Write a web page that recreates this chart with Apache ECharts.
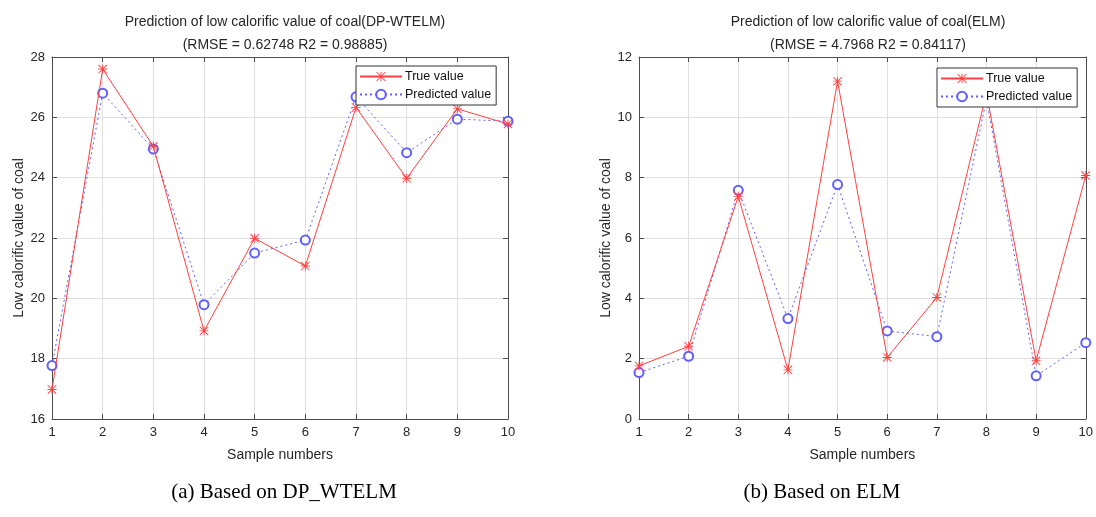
<!DOCTYPE html>
<html>
<head>
<meta charset="utf-8">
<script src="https://cdn.jsdelivr.net/npm/echarts@6/dist/echarts.min.js"></script>
<style>
  html, body { margin: 0; padding: 0; background: #fff; }
  #chart { width: 1096px; height: 517px; }
</style>
</head>
<body>
<div id="chart"></div>
<script>
var samples = [1, 2, 3, 4, 5, 6, 7, 8, 9, 10];

// (a) DP_WTELM
var trueA = [16.98, 27.6, 25.04, 18.92, 21.99, 21.07, 26.33, 23.98, 26.28, 25.78];
var predA = [17.77, 26.8, 24.95, 19.79, 21.5, 21.93, 26.68, 24.83, 25.94, 25.87];

// (b) ELM
var trueB = [1.76, 2.41, 7.38, 1.63, 11.2, 2.04, 4.03, 10.8, 1.93, 8.07];
var predB = [1.54, 2.08, 7.58, 3.33, 7.77, 2.92, 2.73, 10.6, 1.43, 2.53];

var xTicks = [1, 10, 1];
var yTicksA = [16, 28, 2];
var yTicksB = [0, 12, 2];

var titleA = 'Prediction of low calorific value of coal(DP-WTELM)\n(RMSE = 0.62748 R2 = 0.98885)';
var titleB = 'Prediction of low calorific value of coal(ELM)\n(RMSE = 4.7968 R2 = 0.84117)';

function pairs(ys) {
  return samples.map(function (x, i) { return [x, ys[i]]; });
}

var star = 'path://M0 9L20 9L20 11L0 11ZM9 0L11 0L11 20L9 20ZM1.4 0L20 18.6L18.6 20L0 1.4ZM18.6 0L20 1.4L1.4 20L0 18.6Z';
var red = '#ff4040';
var blue = '#6060ff';
var axisCol = '#4d4d4d';
var txtCol = '#262626';
var font = '"Liberation Sans", Arial, sans-serif';

var chartDom = document.getElementById('chart');
var myChart = echarts.init(chartDom, null, {renderer: 'canvas'});

var grids = [
  {left: 52, right: 588, top: 57, bottom: 98},
  {left: 639, right: 9, top: 57, bottom: 98}
];

function xAx(gi, pos) {
  var main = pos === 'bottom';
  return {
    type: 'value', gridIndex: gi, position: pos,
    min: xTicks[0], max: xTicks[1], interval: xTicks[2],
    name: main ? 'Sample numbers' : '',
    nameLocation: 'middle', nameGap: 29,
    nameTextStyle: {color: txtCol, fontSize: 14, fontFamily: font},
    axisLine: {show: true, onZero: false, lineStyle: {color: axisCol, width: 1}},
    axisTick: {show: true, inside: true, length: 5, lineStyle: {color: axisCol}},
    axisLabel: {show: main, color: txtCol, fontSize: 13, fontFamily: font, margin: 7},
    splitLine: {show: main, lineStyle: {color: '#e0e0e0', width: 1}}
  };
}

function yAx(gi, pos, t) {
  var main = pos === 'left';
  return {
    type: 'value', gridIndex: gi, position: pos,
    min: t[0], max: t[1], interval: t[2],
    name: main ? 'Low calorific value of coal' : '',
    nameLocation: 'middle', nameGap: 26, nameRotate: 90,
    nameTextStyle: {color: txtCol, fontSize: 14, fontFamily: font},
    axisLine: {show: true, onZero: false, lineStyle: {color: axisCol, width: 1}},
    axisTick: {show: true, inside: true, length: 5, lineStyle: {color: axisCol}},
    axisLabel: {show: main, color: txtCol, fontSize: 13, fontFamily: font, margin: 7},
    splitLine: {show: main, lineStyle: {color: '#e0e0e0', width: 1}}
  };
}

function trueSeries(gi, ys) {
  return {
    name: 'True value', type: 'line', xAxisIndex: gi * 2, yAxisIndex: gi * 2,
    data: pairs(ys), symbol: star, symbolSize: 9, showSymbol: true,
    lineStyle: {color: red, width: 1},
    itemStyle: {color: red, borderWidth: 0},
    animation: false, z: 3
  };
}

function predSeries(gi, ys) {
  return {
    name: 'Predicted value', type: 'line', xAxisIndex: gi * 2, yAxisIndex: gi * 2,
    data: pairs(ys), symbol: 'emptyCircle', symbolSize: 9, showSymbol: true,
    lineStyle: {color: blue, width: 1, type: [2, 3]},
    itemStyle: {color: blue, borderColor: blue, borderWidth: 1.3},
    animation: false, z: 2
  };
}

function legendAt(left, top) {
  return {
    left: left, top: top, orient: 'vertical',
    data: ['True value', 'Predicted value'],
    backgroundColor: '#fff', borderColor: '#333', borderWidth: 1, borderRadius: 0,
    padding: [4, 5, 4, 3], itemGap: 5, itemWidth: 42, itemHeight: 12,
    textStyle: {color: '#111', fontSize: 12.5, fontFamily: font, padding: [0, 0, 0, -2]},
    selectedMode: false
  };
}

var option = {
  animation: false,
  backgroundColor: '#fff',
  title: [
    {text: titleA, left: 280, top: 6, textAlign: 'center',
     textStyle: {color: txtCol, fontSize: 14, fontWeight: 'normal', fontFamily: font, lineHeight: 23}},
    {text: titleB, left: 863, top: 6, textAlign: 'center',
     textStyle: {color: txtCol, fontSize: 14, fontWeight: 'normal', fontFamily: font, lineHeight: 23}}
  ],
  grid: grids,
  xAxis: [xAx(0, 'bottom'), xAx(0, 'top'), xAx(1, 'bottom'), xAx(1, 'top')],
  yAxis: [yAx(0, 'left', yTicksA), yAx(0, 'right', yTicksA), yAx(1, 'left', yTicksB), yAx(1, 'right', yTicksB)],
  legend: [legendAt(356, 66), legendAt(937, 68)],
  series: [
    trueSeries(0, trueA), predSeries(0, predA),
    trueSeries(1, trueB), predSeries(1, predB)
  ],
  graphic: [
    {type: 'text', x: 284, y: 482,
     style: {text: '(a) Based on DP_WTELM', fill: '#000', align: 'center',
             font: '21px "Liberation Serif", "Times New Roman", serif'}},
    {type: 'text', x: 822, y: 482,
     style: {text: '(b) Based on ELM', fill: '#000', align: 'center',
             font: '21px "Liberation Serif", "Times New Roman", serif'}}
  ]
};

option && myChart.setOption(option);
</script>
</body>
</html>
